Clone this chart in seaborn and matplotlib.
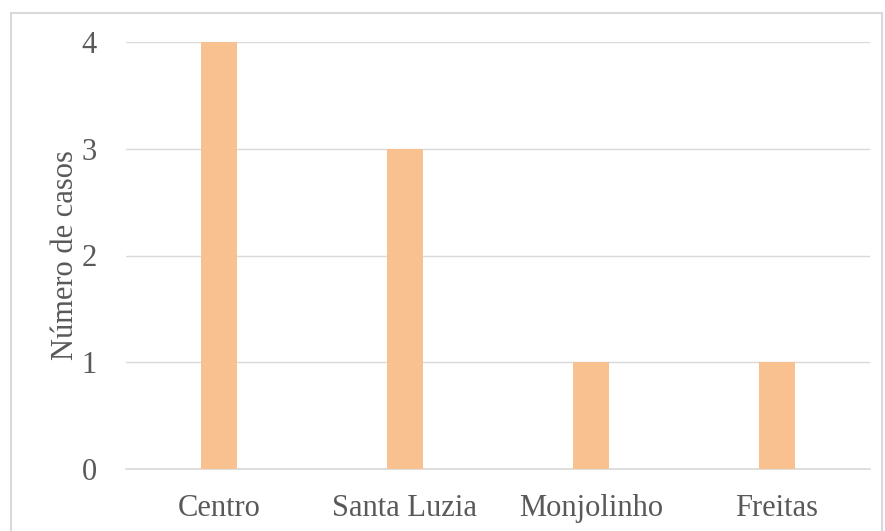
import matplotlib
matplotlib.use("Agg")
import matplotlib.pyplot as plt
import seaborn as sns
import pandas as pd
from matplotlib.patches import Rectangle

categories = ["Centro", "Santa Luzia", "Monjolinho", "Freitas"]
values = [4, 3, 1, 1]
yticks = [0, 1, 2, 3, 4]
ylabel = "Número de casos"

sns.set_theme(style="white")
plt.rcParams["font.family"] = ["Liberation Serif", "DejaVu Serif"]

W, H = 885, 531
fig = plt.figure(figsize=(W / 100, H / 100), dpi=100)
ax = fig.add_axes([126 / W, 1 - 469 / H, (870 - 126) / W, (469 - 42) / H])

df = pd.DataFrame({"cat": categories, "val": values})
sns.barplot(data=df, x="cat", y="val", color="#F9C18F", saturation=1,
            width=0.195, ax=ax, zorder=3, linewidth=0)

text_color = "#595959"
grid_color = "#D9D9D9"
ax.set_ylim(0, 4)
ax.set_yticks(yticks)
ax.set_yticklabels([str(t) for t in yticks])
ax.set_xlim(-0.5, len(categories) - 0.5)
ax.yaxis.grid(True, color=grid_color, linewidth=1, zorder=0)
ax.set_axisbelow(True)
for s in ["top", "right", "left"]:
    ax.spines[s].set_visible(False)
ax.spines["bottom"].set_color(grid_color)
ax.spines["bottom"].set_linewidth(1.2)
ax.tick_params(axis="y", length=0, pad=21, labelsize=22, labelcolor=text_color)
ax.tick_params(axis="x", length=0, pad=18, labelsize=22, labelcolor=text_color)
ax.set_xlabel("")
ax.set_ylabel(ylabel, fontsize=22, color=text_color, labelpad=1)

fig.patches.append(Rectangle((10.5 / W, -0.2), (882 - 10.5) / W, 1.2 - 12.5 / H,
                             transform=fig.transFigure, fill=False,
                             edgecolor=grid_color, linewidth=1.5))

fig.savefig("out.png", dpi=100, facecolor="white")
